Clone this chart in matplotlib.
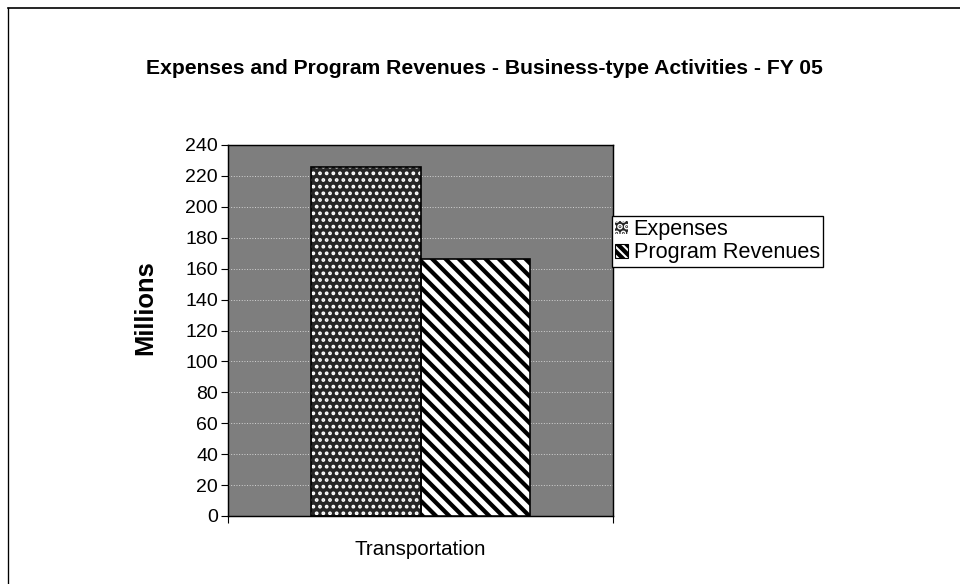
import matplotlib
matplotlib.use('Agg')
import matplotlib.pyplot as plt
from matplotlib.patches import Patch
from matplotlib.lines import Line2D

# data
categories = ['Transportation']
series_names = ['Expenses', 'Program Revenues']
expenses = [226]
program_revenues = [166]
y_ticks = list(range(0, 241, 20))

plt.rcParams['font.family'] = ['Liberation Sans', 'DejaVu Sans']
plt.rcParams['hatch.linewidth'] = 3.8

fig = plt.figure(figsize=(12, 7.3), dpi=80)
ax = fig.add_axes([228 / 960, 1 - 516 / 584, (613 - 228) / 960, (516 - 145) / 584])
ax.set_facecolor('#7e7e7e')

w = 0.285
pos = list(range(len(categories)))

# Expenses: dark base with fine white dots (checker look)
exp_bars = ax.bar([p - w / 2 for p in pos], expenses, width=w, color='#262626',
                  edgecolor='white', hatch='..', linewidth=0, zorder=3)
for b in exp_bars:
    if hasattr(b, 'set_hatch_linewidth'):
        b.set_hatch_linewidth(2.2)
ax.bar([p - w / 2 for p in pos], expenses, width=w, fill=False,
       edgecolor='black', linewidth=1.5, zorder=4)

# Program Revenues: white with diagonal black stripes
ax.bar([p + w / 2 for p in pos], program_revenues, width=w, color='white',
       edgecolor='black', hatch='\\\\', linewidth=1.5, zorder=3)

ax.set_xlim(-0.5, 0.5)
ax.set_ylim(0, 240)
ax.set_yticks(y_ticks)
ax.set_xticks(pos)
ax.set_xticklabels(categories)
ax.set_xticks([-0.5, 0.5], minor=True)
ax.tick_params(axis='x', which='major', length=0, pad=22, labelsize=18.5)
ax.tick_params(axis='x', which='minor', length=6, width=1, direction='out')
ax.tick_params(axis='y', length=6, width=1, direction='out', labelsize=17.5, pad=3)

ax.yaxis.grid(True, color='#cfcfcf', linewidth=0.9, linestyle=':')
ax.set_axisbelow(True)
for s in ax.spines.values():
    s.set_color('black')
    s.set_linewidth(1.3)

ax.set_ylabel('Millions', fontsize=23, fontweight='bold')
ax.yaxis.set_label_coords(-0.185, 0.563)

fig.text(484 / 960, 1 - 68 / 584,
         'Expenses and Program Revenues - Business-type Activities - FY 05',
         ha='center', va='center', fontsize=19, fontweight='bold')

h1 = Patch(facecolor='#262626', edgecolor='white', hatch='..', linewidth=0)
h2 = Patch(facecolor='white', edgecolor='black', hatch='\\\\\\', linewidth=1)
leg = fig.legend([h1, h2], series_names, loc='upper left',
                 bbox_to_anchor=(612 / 960, 1 - 216 / 584),
                 fontsize=19.5, frameon=True, fancybox=False, framealpha=1,
                 edgecolor='black', handlelength=0.6, handleheight=0.6,
                 handletextpad=0.25, borderpad=0.15, labelspacing=0.1,
                 borderaxespad=0)
leg.get_frame().set_linewidth(1.2)

# outer frame of the chart (left and top edges visible in the scan)
fig.add_artist(Line2D([8 / 960, 1], [1 - 8 / 584, 1 - 8 / 584], color='black', linewidth=1.5))
fig.add_artist(Line2D([8 / 960, 8 / 960], [0, 1 - 8 / 584], color='black', linewidth=1.2))

fig.savefig('out.png', dpi=80)
